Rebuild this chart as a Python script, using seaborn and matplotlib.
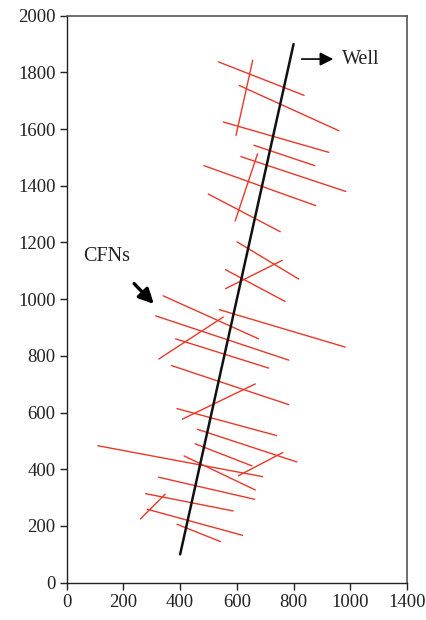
import matplotlib
matplotlib.use("Agg")
import matplotlib.pyplot as plt
import seaborn as sns
import pandas as pd

# Well trajectory (x, depth)
well_x = [400, 800]
well_y = [100, 1900]

# CFN segments: start / end coordinates
cfn_x0 = [535, 656, 608, 552, 660, 614, 673, 484, 499, 601, 760, 560, 340, 314, 538, 552, 384, 369, 665,
          389, 461, 110, 453, 414, 762, 324, 278, 347, 284, 389]
cfn_y0 = [1837, 1843, 1754, 1625, 1543, 1503, 1513, 1471, 1371, 1202, 1137, 1104, 1012, 941, 963, 937, 860, 766, 701,
          614, 541, 483, 490, 447, 459, 372, 314, 312, 259, 206]
cfn_x1 = [837, 597, 960, 924, 875, 984, 594, 878, 753, 818, 560, 770, 677, 783, 982, 325, 712, 783, 408,
          740, 811, 691, 653, 665, 605, 663, 587, 260, 620, 542]
cfn_y1 = [1719, 1578, 1594, 1518, 1471, 1380, 1276, 1330, 1238, 1071, 1037, 992, 860, 785, 831, 789, 757, 628, 577,
          519, 426, 374, 412, 327, 377, 294, 253, 225, 167, 145]

x_ticks = [0, 200, 400, 600, 800, 1000, 1200]
x_tick_labels = ["0", "200", "400", "600", "800", "1000", "1400"]
y_ticks = [0, 200, 400, 600, 800, 1000, 1200, 1400, 1600, 1800, 2000]

rows = []
for i in range(len(cfn_x0)):
    rows.append({"seg": i, "x": cfn_x0[i], "y": cfn_y0[i]})
    rows.append({"seg": i, "x": cfn_x1[i], "y": cfn_y1[i]})
cfn_df = pd.DataFrame(rows)
well_df = pd.DataFrame({"x": well_x, "y": well_y, "seg": [0, 0]})

sns.set_theme(style="white")
plt.rcParams["font.family"] = ["Liberation Serif", "DejaVu Serif"]

fig = plt.figure(figsize=(4.26, 6.20), dpi=100)
ax = fig.add_axes([0.1566, 0.0602, 0.9554 - 0.1566, 0.9747 - 0.0602])

sns.lineplot(data=cfn_df, x="x", y="y", units="seg", estimator=None, sort=False,
             color="#e8382a", linewidth=1.0, ax=ax, legend=False)
sns.lineplot(data=well_df, x="x", y="y", units="seg", estimator=None, sort=False,
             color="#111111", linewidth=1.8, ax=ax, legend=False)

ax.set_xlim(0, 1200)
ax.set_ylim(0, 2000)
ax.set_xticks(x_ticks)
ax.set_xticklabels(x_tick_labels)
ax.set_yticks(y_ticks)
ax.set_xlabel("")
ax.set_ylabel("")
ax.tick_params(axis="both", direction="out", length=5, width=1, colors="#222222",
               labelsize=13.5, pad=3, bottom=True, left=True)

for side in ["left", "bottom"]:
    ax.spines[side].set_color("#222222")
    ax.spines[side].set_linewidth(1.0)
for side in ["top", "right"]:
    ax.spines[side].set_color("#555555")
    ax.spines[side].set_linewidth(1.2)

ax.annotate("", xy=(950, 1847), xytext=(819, 1847),
            arrowprops=dict(arrowstyle="-|>", color="black", lw=1.2, mutation_scale=20))
ax.text(970, 1847, "Well", fontsize=14.5, va="center", ha="left", color="#222222")

ax.text(142, 1150, "CFNs", fontsize=14.5, va="center", ha="center", color="#222222")
ax.annotate("", xy=(314, 976), xytext=(231, 1062),
            arrowprops=dict(arrowstyle="-|>", color="black", lw=2.4, mutation_scale=22))

fig.savefig("out.png", dpi=100)
